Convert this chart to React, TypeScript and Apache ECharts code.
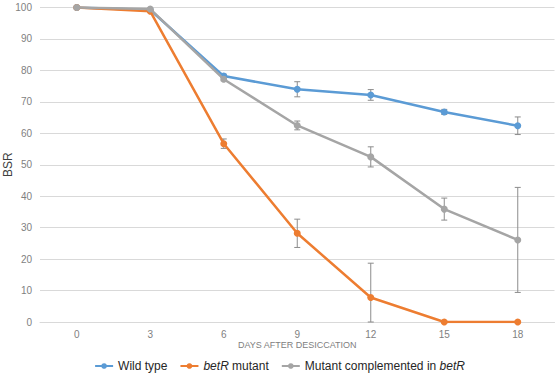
import React, { useEffect, useRef } from "react";
import * as echarts from "echarts";

const days = ["0", "3", "6", "9", "12", "15", "18"];
const wildType = [100, 99.2, 78.2, 74.0, 72.2, 66.8, 62.4];
const wildTypeErr = [0, 0, 0.6, 2.4, 1.7, 0.8, 2.8];
const mutant = [100, 98.8, 56.7, 28.2, 7.8, 0, 0];
const mutantErr = [0, 0, 1.5, 4.5, 10.9, 0, 0];
const complemented = [100, 99.5, 77.2, 62.5, 52.5, 35.9, 26.1];
const complementedErr = [0, 0, 0.5, 1.4, 3.2, 3.5, 16.7];

const seriesNames = ["Wild type", "betR mutant", "Mutant complemented in betR"];
const colors = ["#5B9BD5", "#ED7D31", "#A5A5A5"];

function errData(vals: number[], errs: number[]) {
  return vals.map((v, i) => [i, Math.max(0, v - errs[i]), Math.min(100, v + errs[i]), errs[i]]);
}

function errSeries(vals: number[], errs: number[], z: number) {
  return {
    type: "custom",
    z,
    silent: true,
    data: errData(vals, errs),
    renderItem: (params: any, api: any) => {
      if (api.value(3) <= 0.3) return null;
      const x = api.value(0);
      const lo = api.coord([x, api.value(1)]);
      const hi = api.coord([x, api.value(2)]);
      const hw = 3;
      const style = { stroke: "#8c8c8c", lineWidth: 1 };
      return {
        type: "group",
        children: [
          { type: "line", shape: { x1: lo[0], y1: lo[1], x2: hi[0], y2: hi[1] }, style },
          { type: "line", shape: { x1: lo[0] - hw, y1: lo[1], x2: lo[0] + hw, y2: lo[1] }, style },
          { type: "line", shape: { x1: hi[0] - hw, y1: hi[1], x2: hi[0] + hw, y2: hi[1] }, style },
        ],
      };
    },
  };
}

export default function App() {
  const ref = useRef<HTMLDivElement>(null);
  useEffect(() => {
    if (!ref.current) return;
    document.body.style.margin = "0";
    const chart = echarts.init(ref.current, undefined, { renderer: "svg" });
    const lineSeries = (name: string, data: number[], color: string, z: number) => ({
      name,
      type: "line",
      data,
      z,
      symbol: "circle",
      symbolSize: 7,
      lineStyle: { color, width: 2.5 },
      itemStyle: { color },
    });
    chart.setOption({
      animation: false,
      textStyle: { fontFamily: "Liberation Sans, Arial, sans-serif" },
      grid: { left: 40, right: 4.5, top: 7.5, bottom: 58, containLabel: false, outerBoundsMode: "none" },
      legend: {
        bottom: 3,
        left: "center",
        itemWidth: 18,
        itemHeight: 7,
        itemGap: 12,
        data: seriesNames,
        textStyle: {
          fontSize: 12,
          color: "#262626",
          rich: {
            i: { fontStyle: "italic", fontSize: 12, color: "#262626" },
            n: { fontSize: 12, color: "#262626" },
          },
        },
        formatter: (name: string) => {
          if (name === "betR mutant") return "{i|betR} {n|mutant}";
          if (name === "Mutant complemented in betR") return "{n|Mutant complemented in} {i|betR}";
          return name;
        },
      },
      xAxis: {
        type: "category",
        data: days,
        boundaryGap: true,
        name: "DAYS AFTER DESICCATION",
        nameLocation: "middle",
        nameGap: 18,
        nameMoveOverlap: false,
        nameTextStyle: { fontSize: 9, color: "#808080" },
        axisLine: { show: true, lineStyle: { color: "#d9d9d9" } },
        axisTick: { show: false },
        axisLabel: { fontSize: 10, color: "#7f7f7f", margin: 7 },
      },
      yAxis: {
        type: "value",
        min: 0,
        max: 100,
        interval: 10,
        name: "BSR",
        nameLocation: "middle",
        nameGap: 26,
        nameMoveOverlap: false,
        nameRotate: 90,
        nameTextStyle: { fontSize: 12, color: "#404040" },
        axisLine: { show: false },
        axisTick: { show: false },
        axisLabel: { fontSize: 10, color: "#7f7f7f", margin: 8 },
        splitLine: { lineStyle: { color: "#d9d9d9", width: 1 } },
      },
      series: [
        errSeries(wildType, wildTypeErr, 1),
        errSeries(mutant, mutantErr, 1),
        errSeries(complemented, complementedErr, 1),
        lineSeries(seriesNames[0], wildType, colors[0], 3),
        lineSeries(seriesNames[1], mutant, colors[1], 3),
        lineSeries(seriesNames[2], complemented, colors[2], 4),
      ],
    });
    return () => chart.dispose();
  }, []);
  return <div ref={ref} style={{ width: 559, height: 380 }} />;
}
